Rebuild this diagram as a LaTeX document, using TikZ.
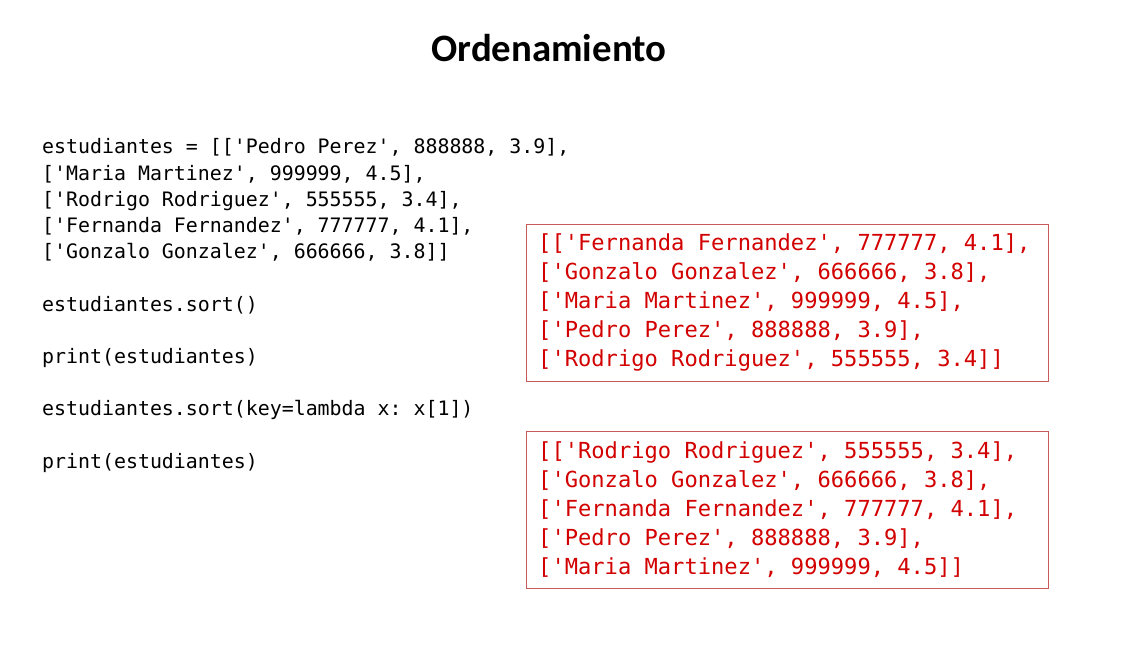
\documentclass[tikz,border=0pt]{standalone}
\usepackage{fontspec}
\setmainfont{Carlito}
\setmonofont{DejaVu Sans Mono}
\definecolor{rojosalida}{RGB}{210,0,0}
\definecolor{bordecaja}{RGB}{200,90,90}
\begin{document}
\begin{tikzpicture}[x=1pt,y=-1pt,
    codigo/.style={anchor=base west,inner sep=0pt,font=\ttfamily\fontsize{19.9}{24}\selectfont},
    salida/.style={anchor=base west,inner sep=0pt,text=rojosalida,font=\ttfamily\fontsize{22.1}{26}\selectfont},
    caja/.style={draw=bordecaja,line width=1.2pt,anchor=north west,minimum width=522,minimum height=157,inner sep=0pt}]
    \fill[white] (0,0) rectangle (1128,652);
    \useasboundingbox (0,0) rectangle (1128,652);
    \node[anchor=base,font=\bfseries\fontsize{38.8}{44}\selectfont] (titulo) at (549,62) {Ordenamiento};
    % codigo de la izquierda
    \foreach \y/\t [count=\i] in {154/{estudiantes = [['Pedro Perez', 888888, 3.9],},
        180.2/{['Maria Martinez', 999999, 4.5],},
        206.4/{['Rodrigo Rodriguez', 555555, 3.4],},
        232.6/{['Fernanda Fernandez', 777777, 4.1],},
        258.8/{['Gonzalo Gonzalez', 666666, 3.8]]},
        311.2/{estudiantes.sort()},
        363.6/{print(estudiantes)},
        416/{estudiantes.sort(key=lambda x: x[1])},
        468.4/{print(estudiantes)}}
        \node[codigo] (linea\i) at (42,\y) {\t};
    % salidas
    \node[caja] (caja1) at (526,224) {};
    \node[caja] (caja2) at (526,431) {};
    \foreach \y/\t [count=\i] in {251/{[['Fernanda Fernandez', 777777, 4.1],},
        280/{['Gonzalo Gonzalez', 666666, 3.8],},
        309/{['Maria Martinez', 999999, 4.5],},
        338/{['Pedro Perez', 888888, 3.9],},
        367/{['Rodrigo Rodriguez', 555555, 3.4]]}}
        \node[salida] (primera\i) at (538,\y) {\t};
    \foreach \y/\t [count=\i] in {458/{[['Rodrigo Rodriguez', 555555, 3.4],},
        487/{['Gonzalo Gonzalez', 666666, 3.8],},
        516/{['Fernanda Fernandez', 777777, 4.1],},
        545/{['Pedro Perez', 888888, 3.9],},
        574/{['Maria Martinez', 999999, 4.5]]}}
        \node[salida] (segunda\i) at (538,\y) {\t};
\end{tikzpicture}
\end{document}
